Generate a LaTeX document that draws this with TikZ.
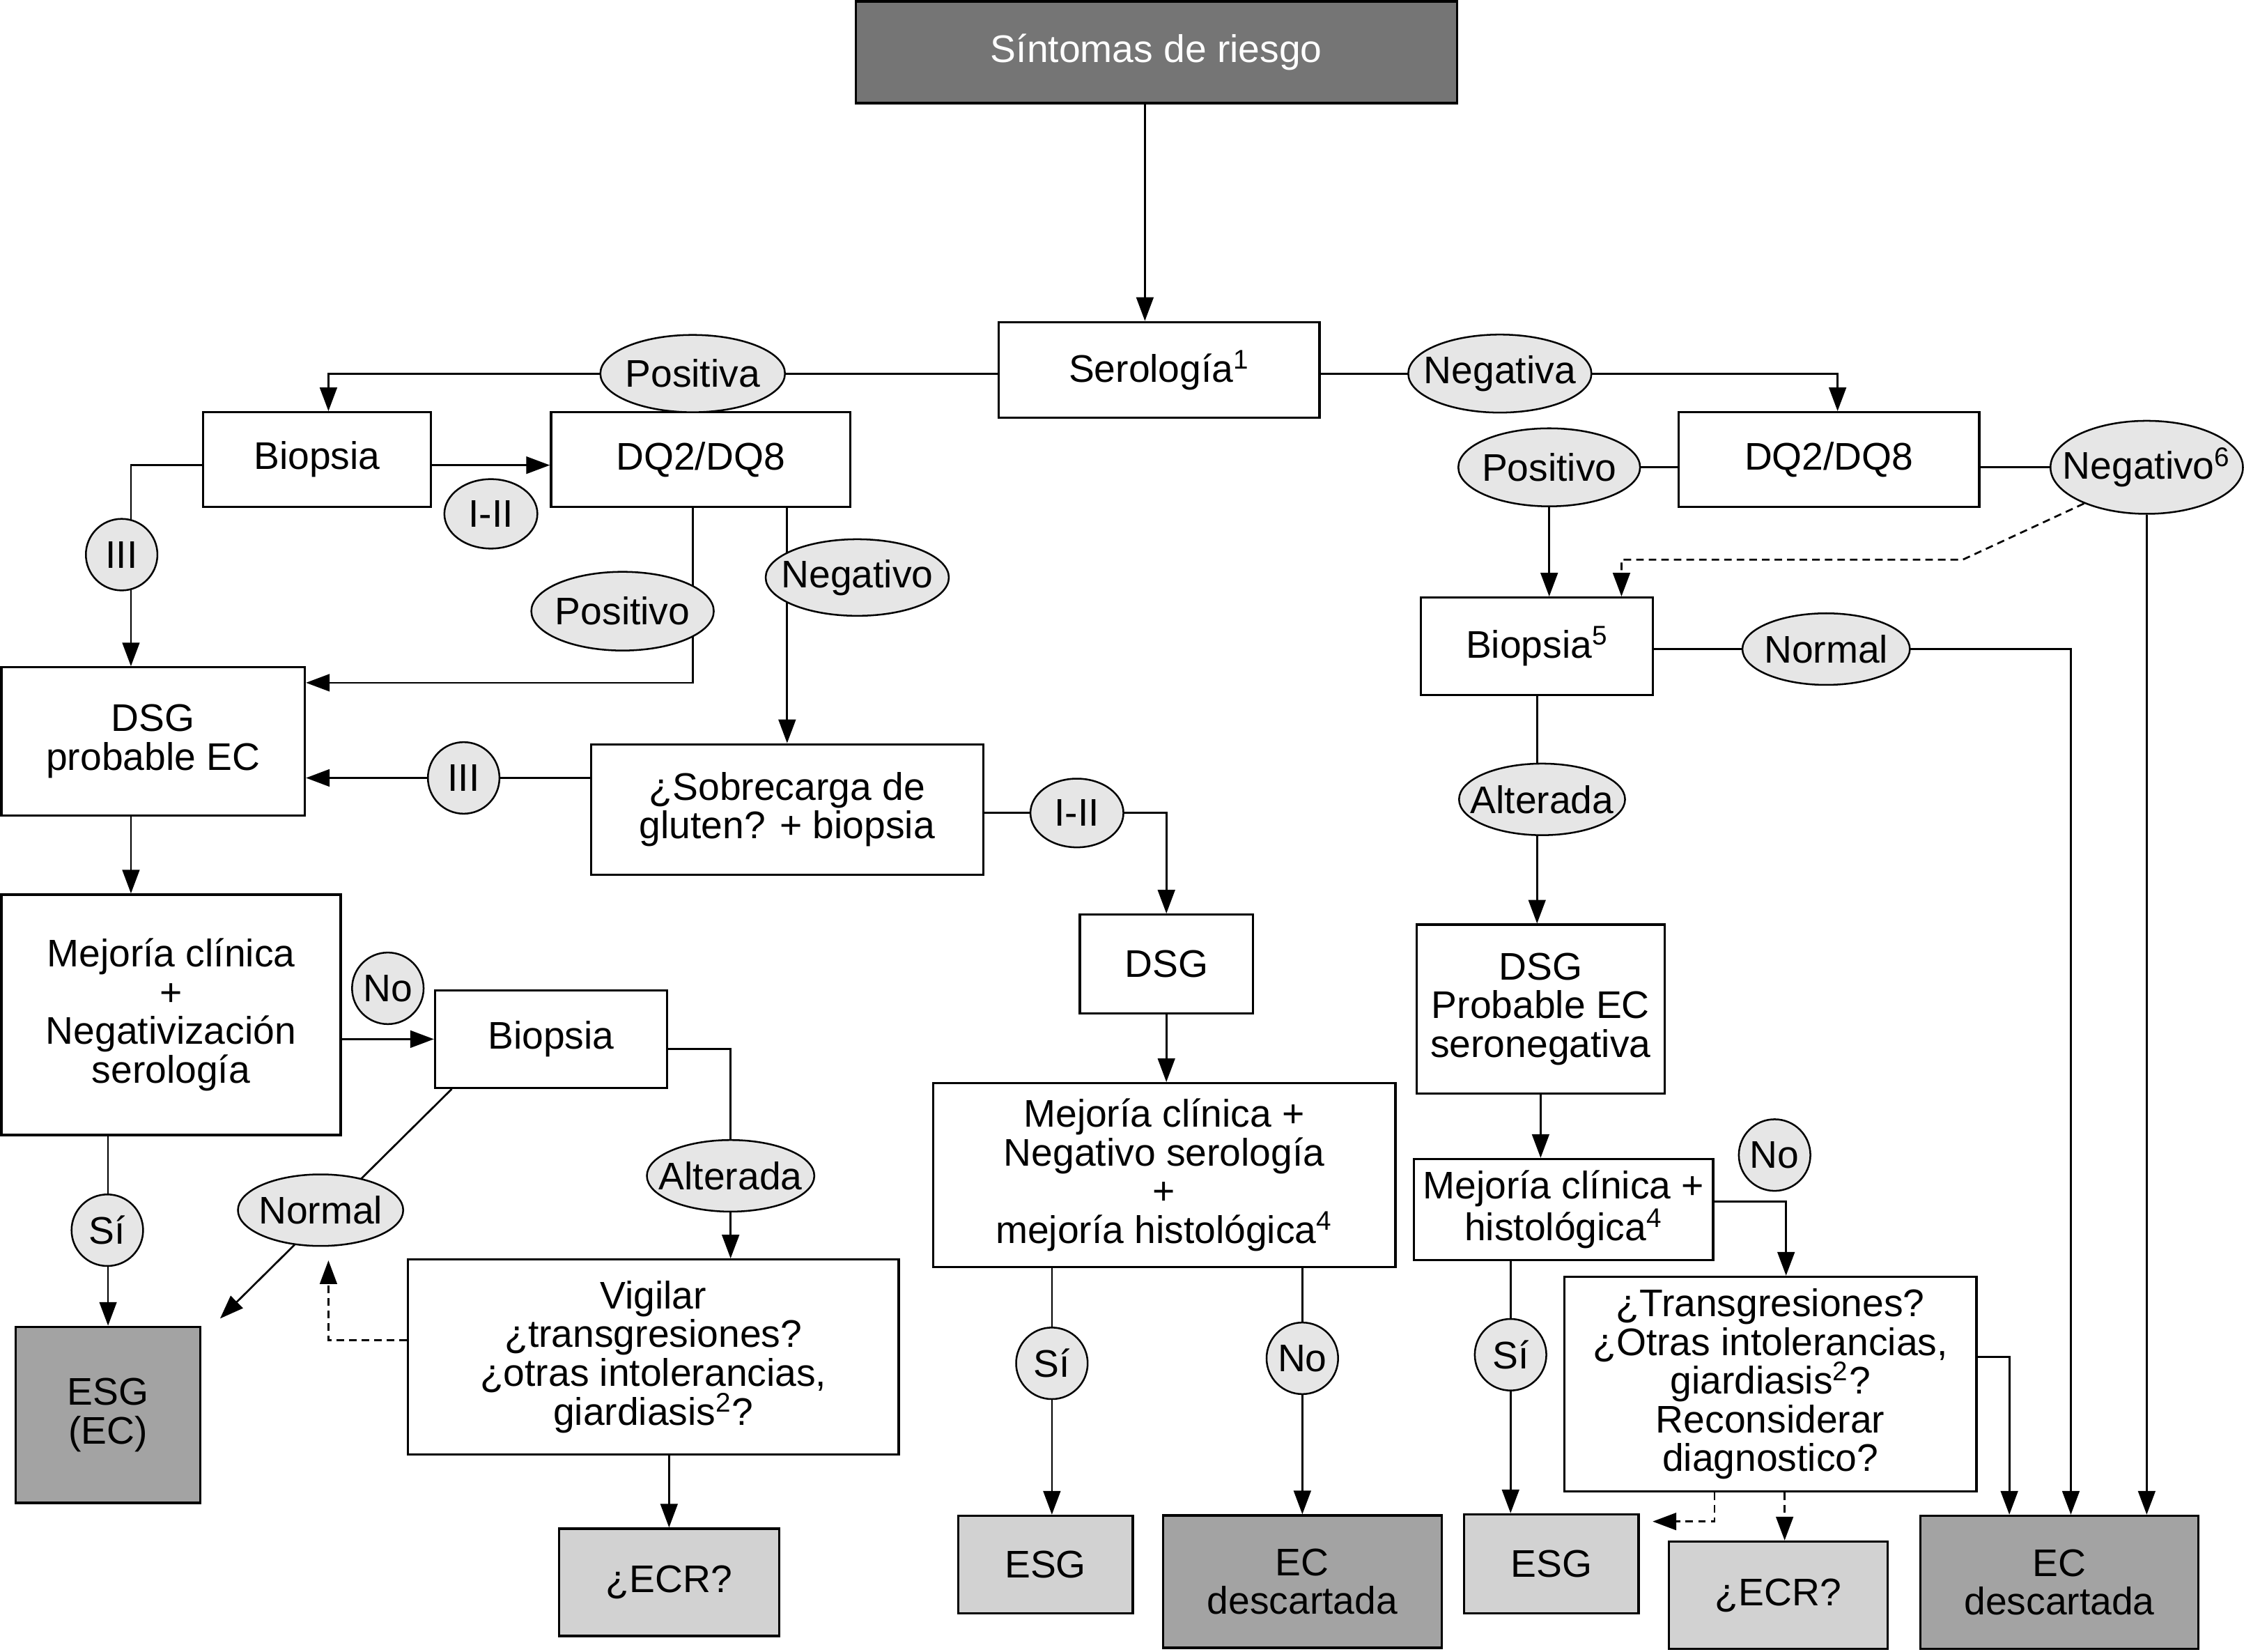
\documentclass[tikz,border=0pt]{standalone}
\usepackage{fontspec}
\setmainfont{Liberation Sans}
\usetikzlibrary{arrows.meta,shapes.geometric}
\definecolor{darkbox}{HTML}{757575}
\definecolor{midbox}{HTML}{A3A3A3}
\definecolor{lightbox}{HTML}{D2D2D2}
\definecolor{labfill}{HTML}{E6E6E6}
\pgfdeclarelayer{background}
\pgfsetlayers{background,main}
\tikzset{font=\fontsize{15.3pt}{15.4pt}\selectfont}
\tikzset{
  box/.style={draw, line width=0.9pt, align=center, inner sep=0pt},
  lab/.style={ellipse, draw, line width=0.7pt, fill=labfill, inner sep=0pt},
  rnd/.style={lab, minimum width=1cm, minimum height=1cm},
  arr/.style={line width=0.75pt, -{Triangle[length=0.33cm,width=0.24cm]}},
  darr/.style={arr, densely dashed},
  link/.style={line width=0.75pt}
}
\newcommand{\lbl}[1]{\makebox[0pt]{#1}}

\begin{document}
\begin{tikzpicture}
  \useasboundingbox (0,0) rectangle (31.36,-23.08);
  \node[box, fill=darkbox, text=white, minimum width=8.4cm, minimum height=1.42cm] (sintomas) at (16.16,-0.73) {Síntomas de riesgo};
  \node[box, minimum width=4.48cm, minimum height=1.34cm] (serologia) at (16.2,-5.17) {Serología\textsuperscript{1}};
  \node[box, minimum width=3.18cm, minimum height=1.32cm] (biopsiaL) at (4.43,-6.42) {Biopsia};
  \node[box, minimum width=4.18cm, minimum height=1.32cm] (dqL) at (9.79,-6.42) {DQ2/DQ8};
  \node[box, minimum width=4.2cm, minimum height=1.32cm] (dqR) at (25.56,-6.42) {DQ2/DQ8};
  \node[box, minimum width=3.24cm, minimum height=1.36cm] (biopsiaR) at (21.48,-9.03) {Biopsia\textsuperscript{5}};
  \node[box, minimum width=4.24cm, minimum height=2.07cm] (dsgprob) at (2.14,-10.36) {DSG\\probable EC};
  \node[box, minimum width=5.48cm, minimum height=1.82cm] (sobrecarga) at (11.0,-11.31) {¿Sobrecarga de\\gluten? + biopsia};
  \node[box, minimum width=4.74cm, minimum height=3.36cm] (mejoraL) at (2.39,-14.18) {Mejoría clínica\\+\\Negativización\\serología};
  \node[box, minimum width=3.24cm, minimum height=1.36cm] (biopsiaM) at (7.7,-14.52) {Biopsia};
  \node[box, minimum width=2.42cm, minimum height=1.38cm] (dsgM) at (16.3,-13.47) {DSG};
  \node[box, minimum width=6.46cm, minimum height=2.57cm] (mejoraM) at (16.27,-16.42) {Mejoría clínica +\\Negativo serología\\+\\mejoría histológica\textsuperscript{4}};
  \node[box, minimum width=3.47cm, minimum height=2.36cm] (dsgR) at (21.53,-14.1) {DSG\\Probable EC\\seronegativa};
  \node[box, minimum width=4.18cm, minimum height=1.41cm] (mejoraR) at (21.85,-16.9) {Mejoría clínica +\\histológica\textsuperscript{4}};
  \node[box, minimum width=6.86cm, minimum height=2.72cm] (vigilar) at (9.13,-18.96) {Vigilar\\¿transgresiones?\\¿otras intolerancias,\\giardiasis\textsuperscript{2}?};
  \node[box, minimum width=5.76cm, minimum height=3.0cm] (transgR) at (24.74,-19.34) {¿Transgresiones?\\¿Otras intolerancias,\\giardiasis\textsuperscript{2}?\\Reconsiderar\\diagnostico?};
  \node[box, fill=midbox, minimum width=2.58cm, minimum height=2.46cm] (esgEC) at (1.51,-19.77) {ESG\\(EC)};
  \node[box, fill=lightbox, minimum width=3.08cm, minimum height=1.5cm] (ecrL) at (9.35,-22.11) {¿ECR?};
  \node[box, fill=lightbox, minimum width=2.44cm, minimum height=1.36cm] (esgM) at (14.61,-21.86) {ESG};
  \node[box, fill=midbox, minimum width=3.89cm, minimum height=1.85cm] (ecdescM) at (18.2,-22.1) {EC\\descartada};
  \node[box, fill=lightbox, minimum width=2.44cm, minimum height=1.38cm] (esgR) at (21.68,-21.85) {ESG};
  \node[box, fill=lightbox, minimum width=3.06cm, minimum height=1.5cm] (ecrR) at (24.85,-22.29) {¿ECR?};
  \node[box, fill=midbox, minimum width=3.88cm, minimum height=1.86cm] (ecdescR) at (28.78,-22.11) {EC\\descartada};

  \node[lab, minimum width=2.58cm, minimum height=1.08cm] (positiva) at (9.68,-5.22) {\lbl{Positiva}};
  \node[lab, minimum width=2.56cm, minimum height=1.09cm] (negativa) at (20.96,-5.22) {\lbl{Negativa}};
  \node[lab, minimum width=1.3cm, minimum height=0.97cm] (iiL) at (6.86,-7.18) {\lbl{I-II}};
  \node[rnd] (iiiL) at (1.7,-7.75) {\lbl{III}};
  \node[lab, minimum width=2.55cm, minimum height=1.1cm] (positivoL) at (8.7,-8.54) {\lbl{Positivo}};
  \node[lab, minimum width=2.56cm, minimum height=1.07cm] (negativoL) at (11.98,-8.07) {\lbl{Negativo}};
  \node[lab, minimum width=2.54cm, minimum height=1.09cm] (positivoR) at (21.65,-6.53) {\lbl{Positivo}};
  \node[lab, minimum width=2.69cm, minimum height=1.3cm] (negativoS) at (30.0,-6.53) {\lbl{Negativo\textsuperscript{6}}};
  \node[lab, minimum width=2.34cm, minimum height=1cm] (normalR) at (25.52,-9.07) {\lbl{Normal}};
  \node[rnd] (iiiM) at (6.48,-10.87) {\lbl{III}};
  \node[lab, minimum width=1.3cm, minimum height=0.96cm] (iiM) at (15.05,-11.36) {\lbl{I-II}};
  \node[lab, minimum width=2.32cm, minimum height=1cm] (alteradaR) at (21.55,-11.17) {\lbl{Alterada}};
  \node[rnd] (noL) at (5.42,-13.81) {\lbl{No}};
  \node[rnd] (siL) at (1.5,-17.19) {\lbl{Sí}};
  \node[lab, minimum width=2.31cm, minimum height=1cm] (normalL) at (4.48,-16.91) {\lbl{Normal}};
  \node[lab, minimum width=2.34cm, minimum height=1cm] (alteradaL) at (10.21,-16.43) {\lbl{Alterada}};
  \node[rnd] (siM) at (14.7,-19.05) {\lbl{Sí}};
  \node[rnd] (noM) at (18.2,-18.98) {\lbl{No}};
  \node[rnd] (noR) at (24.8,-16.14) {\lbl{No}};
  \node[rnd] (siR) at (21.11,-18.93) {\lbl{Sí}};

  \begin{pgfonlayer}{background}
    \draw[arr] ([xshift=-0.16cm]sintomas.south) -- ([xshift=-0.2cm]serologia.north);
    \draw[arr] (serologia.west |- positiva) -- (positiva.center) -| ([xshift=0.16cm]biopsiaL.north);
    \draw[arr] (serologia.east |- negativa) -- (negativa.center) -| ([xshift=0.12cm]dqR.north);
    \draw[arr] ([yshift=-0.08cm]biopsiaL.east) -- ([yshift=-0.08cm]dqL.west);
    \draw[arr] ([yshift=-0.08cm]biopsiaL.west) -| ([xshift=-0.31cm]dsgprob.north);
    \draw[arr] ([xshift=-0.11cm]dqL.south) |- ([yshift=0.82cm]dsgprob.east);
    \draw[arr] (sobrecarga.north |- dqL.south) -- (sobrecarga.north);
    \draw[arr] (sobrecarga.west |- iiiM) -- (dsgprob.east |- iiiM);
    \draw[arr] (sobrecarga.east |- iiM) -| (dsgM.north);
    \draw[arr] ([xshift=-0.31cm]dsgprob.south) -- ([xshift=-0.56cm]mejoraL.north);
    \draw[arr] (mejoraL.east |- biopsiaM.west) -- (biopsiaM.west);
    \draw[arr] (esgEC.north |- mejoraL.south) -- (esgEC.north);
    \draw[arr] ([xshift=0.25cm]biopsiaM.south west) -- ([xshift=0.26cm,yshift=0.1cm]esgEC.north east);
    \draw[arr] ([yshift=-0.14cm]biopsiaM.east) -| (alteradaL.center |- vigilar.north);
    \draw[darr] ([yshift=0.23cm]vigilar.west) -| ([xshift=0.11cm,yshift=-0.19cm]normalL.south);
    \draw[arr] (ecrL.north |- vigilar.south) -- (ecrL.north);
    \draw[arr] (dsgM.south) -- (dsgM.south |- mejoraM.north);
    \draw[arr] (siM |- mejoraM.south) -- (siM |- esgM.north);
    \draw[arr] (noM |- mejoraM.south) -- (noM |- ecdescM.north);
    \draw[link] (dqR.west |- positivoR) -- (positivoR.center);
    \draw[arr] (positivoR.south) -- (positivoR.south |- biopsiaR.north);
    \draw[link] (dqR.east |- negativoS) -- (negativoS.center);
    \draw[arr] (negativoS.south) -- (negativoS.south |- ecdescR.north);
    \draw[darr] (negativoS.210) -- (27.43,-7.82) -| ([xshift=1.18cm]biopsiaR.north);
    \draw[arr] (biopsiaR.east |- normalR) -- (normalR.center) -| ([xshift=0.16cm]ecdescR.north);
    \draw[arr] (biopsiaR.south) -- (biopsiaR.south |- dsgR.north);
    \draw[arr] (dsgR.south) -- (dsgR.south |- mejoraR.north);
    \draw[arr] ([yshift=0.11cm]mejoraR.east) -| ([xshift=0.22cm]transgR.north);
    \draw[arr] (siR |- mejoraR.south) -- (siR |- esgR.north);
    \draw[arr] ([yshift=0.38cm]transgR.east) -| ([xshift=-0.7cm]ecdescR.north);
    \draw[darr] ([xshift=-0.78cm]transgR.south) |- ([xshift=0.18cm,yshift=0.59cm]esgR.east);
    \draw[darr] ([xshift=0.2cm]transgR.south) -- ([xshift=0.09cm]ecrR.north);
  \end{pgfonlayer}
\end{tikzpicture}
\end{document}
